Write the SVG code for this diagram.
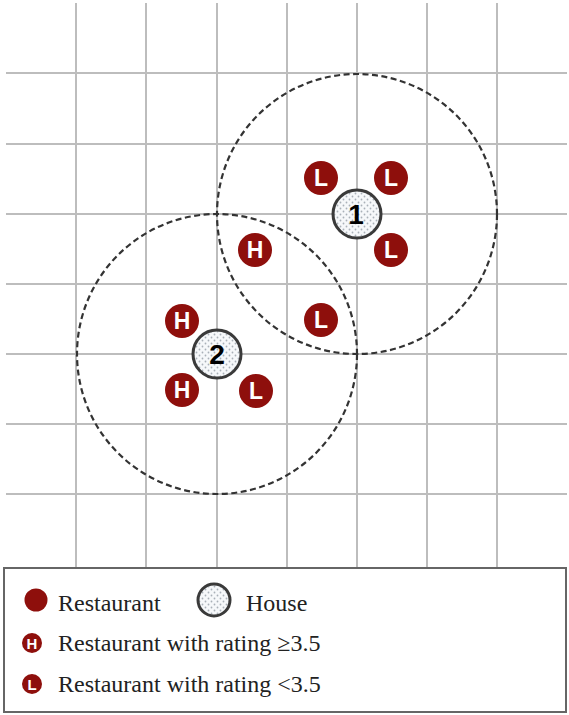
<svg xmlns="http://www.w3.org/2000/svg" width="569" height="715" viewBox="0 0 569 715">
<defs>
<pattern id="dots" width="6" height="6" patternUnits="userSpaceOnUse">
<rect width="6" height="6" fill="#f6f8fa"/>
<circle cx="1.5" cy="1.5" r="0.9" fill="#a9b0b8"/>
<circle cx="4.5" cy="4.5" r="0.9" fill="#a9b0b8"/>
</pattern>
<style>
.grid{stroke:#bdbdbd;stroke-width:2;fill:none}
.range{fill:none;stroke:#333;stroke-width:2.2;stroke-dasharray:6 3.5}
.rest{fill:#8e0f0c}
.rl{fill:#fff;font-family:"Liberation Sans",Arial,sans-serif;font-weight:bold;font-size:23px;text-anchor:middle}
.house{fill:url(#dots);stroke:#3a3a3a;stroke-width:3}
.hl{fill:#000;font-family:"Liberation Sans",Arial,sans-serif;font-weight:bold;font-size:28px;text-anchor:middle}
.lg{fill:#222;font-family:"Liberation Serif","Times New Roman",serif;font-size:24px}
.lgl{fill:#fff;font-family:"Liberation Sans",Arial,sans-serif;font-weight:bold;font-size:15px;text-anchor:middle}
</style>
</defs>
<rect width="569" height="715" fill="#fff"/>
<g id="grid" class="grid">
<path d="M76 3V567M146 3V567M217 3V567M287 3V567M357 3V567M427 3V567M497 3V567"/>
<path d="M6 73H567M6 144H567M6 214H567M6 284H567M6 354H567M6 424H567M6 494H567"/>
</g>
<g id="connectors">
<circle class="range" cx="357" cy="214" r="140"/>
<circle class="range" cx="217" cy="354" r="140"/>
</g>
<g id="house1"><circle class="house" cx="357" cy="214" r="24"/><text class="hl" x="356" y="224">1</text></g>
<g id="house2"><circle class="house" cx="217" cy="354" r="24"/><text class="hl" x="217" y="364">2</text></g>
<g id="r1"><circle class="rest" cx="321" cy="178" r="17"/><text class="rl" x="321" y="186">L</text></g>
<g id="r2"><circle class="rest" cx="391" cy="178" r="17"/><text class="rl" x="391" y="186">L</text></g>
<g id="r3"><circle class="rest" cx="391" cy="250" r="17"/><text class="rl" x="391" y="258">L</text></g>
<g id="r4"><circle class="rest" cx="255" cy="250" r="17"/><text class="rl" x="255" y="258">H</text></g>
<g id="r5"><circle class="rest" cx="321" cy="320" r="17"/><text class="rl" x="321" y="328">L</text></g>
<g id="r6"><circle class="rest" cx="182" cy="321" r="17"/><text class="rl" x="182" y="329">H</text></g>
<g id="r7"><circle class="rest" cx="182" cy="390" r="17"/><text class="rl" x="182" y="398">H</text></g>
<g id="r8"><circle class="rest" cx="256" cy="391" r="17"/><text class="rl" x="256" y="399">L</text></g>
<g id="legend">
<rect x="4" y="568" width="562" height="144" fill="#fff" stroke="#666" stroke-width="2"/>
<circle class="rest" cx="36" cy="600" r="11.5"/>
<text class="lg" x="58" y="611">Restaurant</text>
<circle class="house" cx="214" cy="600" r="16" stroke-width="2"/>
<text class="lg" x="246" y="611">House</text>
<circle class="rest" cx="32" cy="643" r="10"/>
<text class="lgl" x="32" y="648.5">H</text>
<text class="lg" x="58" y="651">Restaurant with rating ≥3.5</text>
<circle class="rest" cx="32" cy="684" r="10"/>
<text class="lgl" x="32" y="689.5">L</text>
<text class="lg" x="58" y="692">Restaurant with rating &lt;3.5</text>
</g>
</svg>
